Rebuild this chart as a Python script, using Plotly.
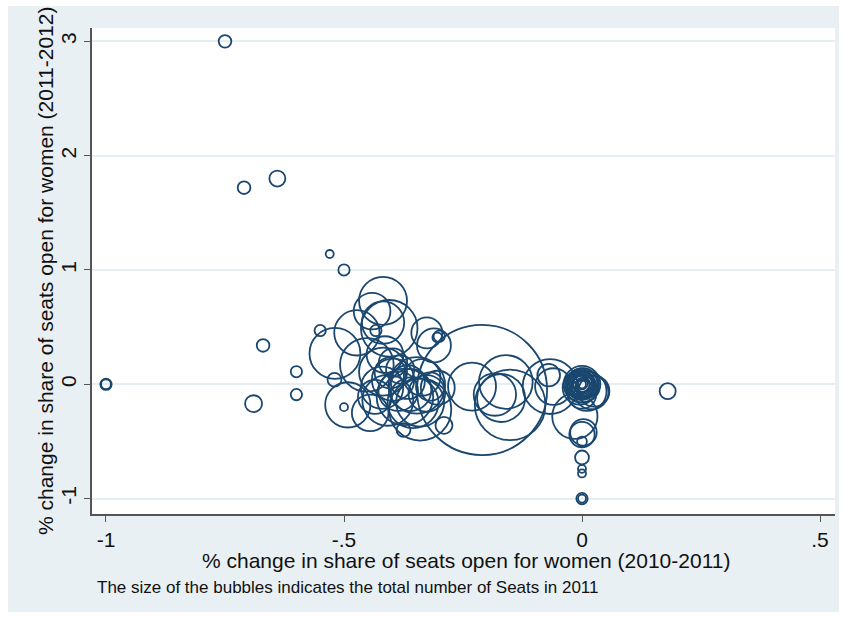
import plotly.graph_objects as go

# Change in share of seats open for women, 2010-2011 (x) vs 2011-2012 (y),
# bubble area proportional to the total number of seats in 2011.
change_2010_2011 = [
    -0.75, -0.71, -0.64, -0.53, -0.50, -1.00, -1.00, -0.67, -0.69, -0.60,
    -0.60, -0.55, -0.52, -0.50, 0.18, 0.00, 0.00, 0.00, 0.00, 0.00,
    0.00, 0.00, 0.003, -0.015, -0.29, -0.375,
    0.00, 0.00, 0.002, -0.002, 0.00, 0.001, 0.01, 0.02, 0.025, 0.00,
    -0.005, 0.002, 0.00, 0.00, 0.001, -0.001, 0.00, 0.001, 0.00, 0.00,
    -0.067, -0.06, -0.07,
    -0.21, -0.231, -0.16, -0.183, -0.17, -0.151,
    -0.418, -0.441, -0.405, -0.418, -0.433, -0.473, -0.519, -0.326, -0.311, -0.300,
    -0.304, -0.452, -0.492,
    -0.418, -0.397, -0.420, -0.408, -0.372, -0.347, -0.336, -0.326, -0.340, -0.366,
    -0.435, -0.397, -0.382, -0.319, -0.445, -0.355, -0.414, -0.303, -0.361, -0.386,
    -0.403, -0.340,
]
change_2011_2012 = [
    3.00, 1.72, 1.80, 1.14, 1.00, 0.00, 0.00, 0.34, -0.17, 0.11,
    -0.09, 0.47, 0.04, -0.20, -0.06, -1.00, -1.00, -0.74, -0.78, -0.64,
    -0.50, -0.44, -0.42, -0.28, -0.36, -0.40,
    0.00, -0.01, 0.005, -0.01, 0.01, -0.02, -0.06, -0.07, -0.06, -0.09,
    -0.03, 0.00, 0.00, 0.005, -0.005, 0.00, 0.01, -0.01, 0.00, 0.00,
    -0.02, -0.02, 0.08,
    -0.05, -0.02, 0.02, -0.09, -0.12, -0.18,
    0.73, 0.64, 0.49, 0.54, 0.47, 0.45, 0.27, 0.45, 0.34, 0.42,
    0.41, 0.17, -0.18,
    0.11, 0.04, -0.03, -0.14, -0.11, -0.01, 0.06, -0.08, -0.16, 0.02,
    -0.11, 0.19, 0.13, -0.02, -0.25, -0.16, 0.26, -0.03, -0.05, -0.06,
    0.10, -0.22,
]
seats_2011 = [
    5, 5, 8, 2, 4, 4, 3, 5, 9, 4,
    4, 4, 6, 2, 8, 4, 2, 2, 2, 6,
    3, 20, 22, 64, 9, 6,
    42, 36, 30, 25, 20, 16, 49, 36, 30, 25,
    36, 12, 2, 4, 6, 9, 12, 16, 20, 30,
    94, 42, 16,
    529, 72, 90, 56, 72, 156,
    72, 42, 100, 56, 4, 64, 81, 30, 36, 4,
    3, 90, 64,
    72, 56, 56, 81, 100, 100, 42, 42, 72, 36,
    36, 25, 25, 25, 42, 81, 42, 36, 56, 49,
    30, 121,
]

x_ticks = [-1, -0.5, 0, 0.5]
x_tick_text = ["-1", "-.5", "0", ".5"]
y_ticks = [-1, 0, 1, 2, 3]
y_tick_text = ["-1", "0", "1", "2", "3"]

navy = "#1a476f"
region = "#e9f0f3"
grid = "#e6eef1"
axis_col = "#555555"
font_family = "Liberation Sans, Arial, sans-serif"

W, H = 845, 619
L, R, T, B = 92, 835, 28, 514  # plot area edges in px


def px_x(p):
    return (p - L) / (R - L)


def px_y(p):
    return (B - p) / (B - T)


fig = go.Figure(
    go.Scatter(
        x=change_2010_2011,
        y=change_2011_2012,
        mode="markers",
        marker=dict(
            size=seats_2011,
            sizemode="area",
            sizeref=1 / 16,
            opacity=1,
            color="rgba(0,0,0,0)",
            line=dict(color=navy, width=1.8),
        ),
        hoverinfo="x+y+text",
        text=[f"Seats: {s}" for s in seats_2011],
    )
)

fig.update_layout(
    width=W,
    height=H,
    margin=dict(l=L, r=W - R, t=T, b=H - B),
    paper_bgcolor="white",
    plot_bgcolor="white",
    showlegend=False,
    font=dict(family=font_family, color="#111111"),
    shapes=[
        # outer graph region
        dict(type="rect", xref="paper", yref="paper", layer="below",
             x0=px_x(8), x1=px_x(839), y0=px_y(612), y1=px_y(6),
             fillcolor=region, line=dict(width=0)),
        # plot region
        dict(type="rect", xref="paper", yref="paper", layer="below",
             x0=0, x1=1, y0=0, y1=1,
             fillcolor="white", line=dict(width=0)),
    ],
    annotations=[
        dict(text="% change in share of seats open for women (2010-2011)",
             xref="paper", yref="paper", x=0.503, y=px_y(560),
             xanchor="center", yanchor="middle", showarrow=False,
             font=dict(size=21, family=font_family, color="#111111")),
        dict(text="% change in share of seats open for women (2011-2012)",
             xref="paper", yref="paper", x=px_x(45), y=0.5,
             xanchor="center", yanchor="middle", showarrow=False, textangle=-90,
             font=dict(size=21, family=font_family, color="#111111")),
        dict(text="The size of the bubbles indicates the total number of Seats in 2011",
             xref="paper", yref="paper", x=px_x(95), y=px_y(587),
             xanchor="left", yanchor="middle", showarrow=False,
             font=dict(size=17, family=font_family, color="#111111")),
    ],
)

fig.update_xaxes(
    range=[-1.0294, 0.5315],
    tickmode="array", tickvals=x_ticks, ticktext=x_tick_text,
    ticks="outside", ticklen=6, tickwidth=1.3, tickcolor=axis_col,
    showline=True, linecolor=axis_col, linewidth=1.5,
    showgrid=False, zeroline=False,
    tickfont=dict(size=21, family=font_family, color="#111111"),
)
fig.update_yaxes(
    range=[-1.1348, 3.117],
    tickmode="array", tickvals=y_ticks, ticktext=y_tick_text,
    ticks="outside", ticklen=6, tickwidth=1.3, tickcolor=axis_col,
    showline=True, linecolor=axis_col, linewidth=1.5,
    showgrid=True, gridcolor=grid, gridwidth=1.5, zeroline=False,
    tickangle=-90,
    tickfont=dict(size=21, family=font_family, color="#111111"),
)

fig.write_html("out.html")
